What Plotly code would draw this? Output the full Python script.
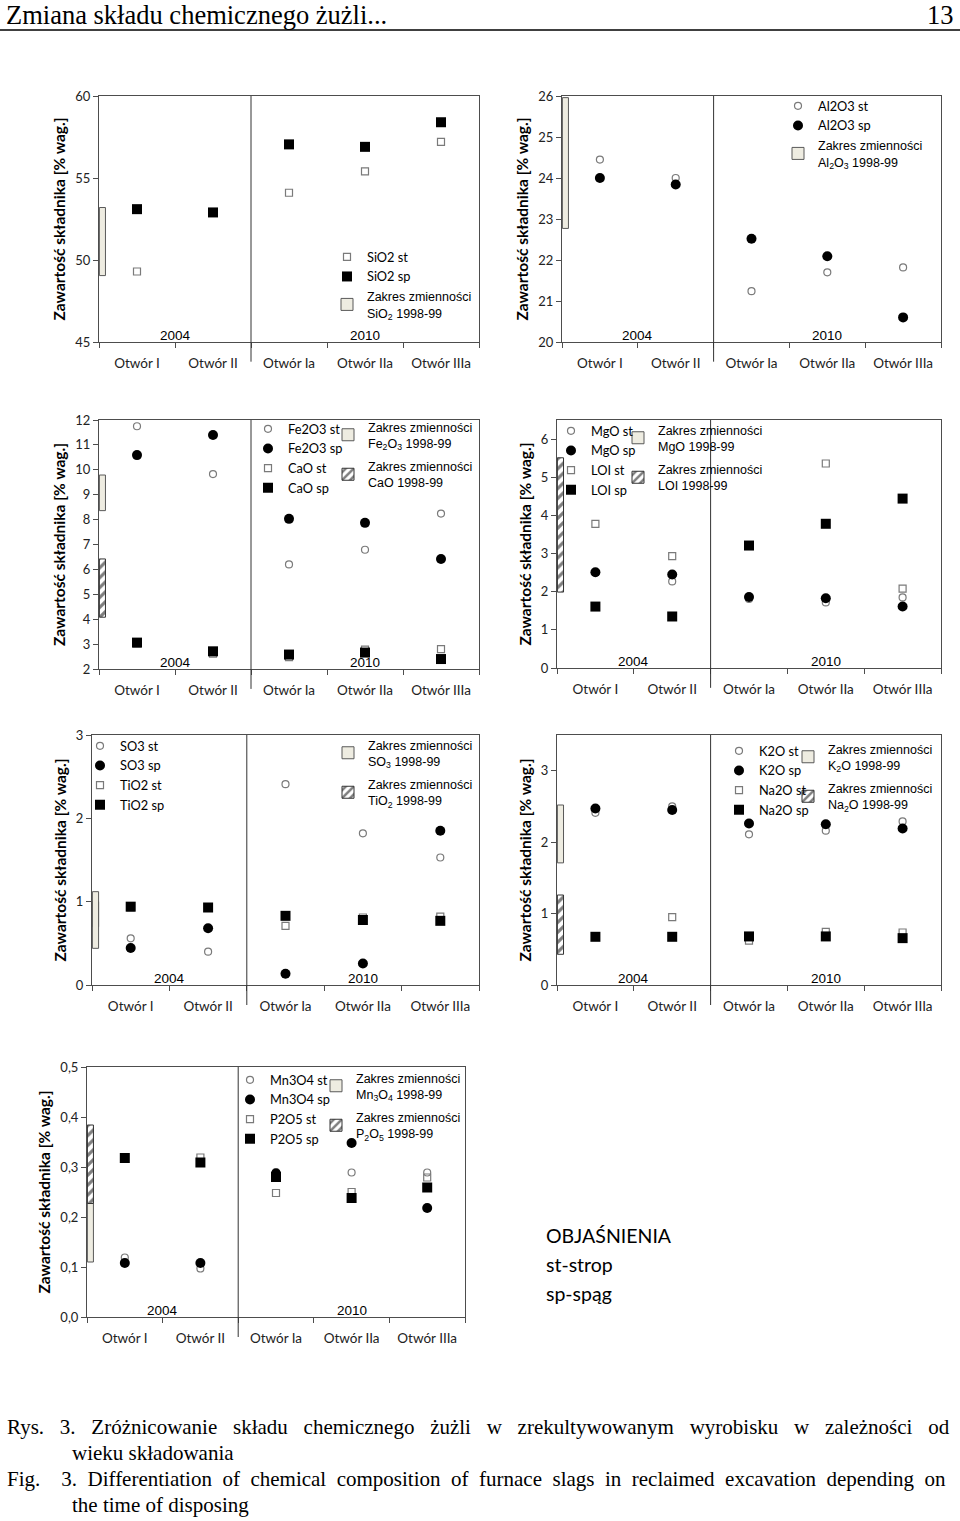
import plotly.graph_objects as go

# ---------------- data ----------------
categories = ["Otwór I", "Otwór II", "Otwór Ia", "Otwór IIa", "Otwór IIIa"]
year_labels = ["2004", "2010"]
year_groups = [[0, 1], [2, 3, 4]]

sio2_st = [49.3, 52.9, 54.1, 55.4, 57.2]
sio2_sp = [53.1, 52.9, 57.05, 56.9, 58.4]
sio2_range = [49.05, 53.2]

al2o3_st = [24.45, 24.0, 21.24, 21.7, 21.82]
al2o3_sp = [24.0, 23.84, 22.52, 22.09, 20.6]
al2o3_range = [22.77, 25.96]

fe2o3_st = [11.75, 9.83, 6.2, 6.79, 8.24]
fe2o3_sp = [10.59, 11.4, 8.03, 7.87, 6.42]
cao_st = [3.03, 2.62, 2.48, 2.78, 2.8]
cao_sp = [3.06, 2.71, 2.58, 2.66, 2.4]
fe2o3_range = [8.36, 9.79]
cao_range = [4.08, 6.42]

mgo_st = [2.5, 2.27, 1.81, 1.72, 1.85]
mgo_sp = [2.51, 2.45, 1.86, 1.83, 1.61]
loi_st = [3.78, 2.93, 3.2, 5.36, 2.08]
loi_sp = [1.61, 1.35, 3.21, 3.78, 4.44]
mgo_range = [2.1, 3.0]
loi_range = [1.99, 5.51]

so3_st = [0.56, 0.40, 2.41, 1.82, 1.53]
so3_sp = [0.445, 0.68, 0.136, 0.257, 1.85]
tio2_st = [0.93, 0.93, 0.71, 0.81, 0.82]
tio2_sp = [0.94, 0.93, 0.83, 0.78, 0.77]
so3_range = [0.44, 1.12]
tio2_range = [0.7, 1.0]

k2o_st = [2.41, 2.50, 2.11, 2.16, 2.29]
k2o_sp = [2.47, 2.45, 2.26, 2.25, 2.19]
na2o_st = [0.68, 0.95, 0.62, 0.745, 0.735]
na2o_sp = [0.675, 0.675, 0.68, 0.68, 0.656]
k2o_range = [1.71, 2.52]
na2o_range = [0.43, 1.26]

mn3o4_st = [0.119, 0.097, 0.29, 0.289, 0.289]
mn3o4_sp = [0.108, 0.108, 0.287, 0.348, 0.218]
p2o5_st = [0.32, 0.319, 0.248, 0.25, 0.279]
p2o5_sp = [0.318, 0.309, 0.28, 0.238, 0.259]
mn3o4_range = [0.11, 0.38]
p2o5_range = [0.227, 0.384]

header_text = "Zmiana składu chemicznego żużli..."
page_number = "13"
explanation = ["OBJAŚNIENIA", "st-strop", "sp-spąg"]
caption_lines = [
    "Rys. 3. Zróżnicowanie składu chemicznego żużli w zrekultywowanym wyrobisku w zależności od",
    "wieku składowania",
    "Fig.  3. Differentiation of chemical composition of furnace slags in reclaimed excavation depending on",
    "the time of disposing",
]

# ---------------- styles / layout ----------------
W, H = 960, 1521
AX = "#4d4d4d"
SANS = "Lato"
ARIAL = "Liberation Sans"
SERIF = "Liberation Serif"
RANGE_X = -0.455
RANGE_W = 0.08

MK = {
    "c_open": dict(symbol="circle-open", size=7, color="#7a7a7a", line=dict(width=1.2)),
    "c_fill": dict(symbol="circle", size=10, color="black"),
    "s_open": dict(symbol="square-open", size=7, color="#7a7a7a", line=dict(width=1.2)),
    "s_fill": dict(symbol="square", size=10, color="black"),
}
PLAIN = dict(color="#eeece1", line=dict(color="#595959", width=1))
HATCH = dict(color="white", line=dict(color="#333333", width=1),
             pattern=dict(shape="/", fgcolor="black", bgcolor="white", size=7, solidity=0.45))


def rng_name(formula):
    return ('<span style="font-family:Liberation Sans;font-size:12.5px">Zakres zmienności<br>'
            + formula + ' 1998-99</span>')


panels = [
    dict(box=(99, 479, 96, 342), yr=[45, 60], dt=5, fmt="",
         pts=[("SiO2 st", sio2_st, "s_open"), ("SiO2 sp", sio2_sp, "s_fill")],
         rngs=[("SiO<sub>2</sub>", sio2_range, PLAIN, 3)],
         legA=(367, 257), legB=None),
    dict(box=(562, 941, 96, 342), yr=[20, 26], dt=1, fmt="",
         pts=[("Al2O3 st", al2o3_st, "c_open"), ("Al2O3 sp", al2o3_sp, "c_fill")],
         rngs=[("Al<sub>2</sub>O<sub>3</sub>", al2o3_range, PLAIN, 3)],
         legA=(818, 106), legB=None),
    dict(box=(99, 479, 420, 669), yr=[2, 12], dt=1, fmt="",
         pts=[("Fe2O3 st", fe2o3_st, "c_open"), ("Fe2O3 sp", fe2o3_sp, "c_fill"),
              ("CaO st", cao_st, "s_open"), ("CaO sp", cao_sp, "s_fill")],
         rngs=[("Fe<sub>2</sub>O<sub>3</sub>", fe2o3_range, PLAIN, 1), ("CaO", cao_range, HATCH, 2)],
         legA=(288, 429), legB=(368, 427)),
    dict(box=(557, 941, 420, 668), yr=[0, 6.5], dt=1, fmt="",
         pts=[("MgO st", mgo_st, "c_open"), ("MgO sp", mgo_sp, "c_fill"),
              ("LOI st", loi_st, "s_open"), ("LOI sp", loi_sp, "s_fill")],
         rngs=[("MgO", mgo_range, PLAIN, 1), ("LOI", loi_range, HATCH, 2)],
         legA=(591, 431), legB=(658, 430)),
    dict(box=(92, 479, 735, 985), yr=[0, 3], dt=1, fmt="",
         pts=[("SO3 st", so3_st, "c_open"), ("SO3 sp", so3_sp, "c_fill"),
              ("TiO2 st", tio2_st, "s_open"), ("TiO2 sp", tio2_sp, "s_fill")],
         rngs=[("TiO<sub>2</sub>", tio2_range, HATCH, 2), ("SO<sub>3</sub>", so3_range, PLAIN, 1)],
         legA=(120, 746), legB=(368, 745)),
    dict(box=(557, 941, 735, 985), yr=[0, 3.5], dt=1, fmt="",
         pts=[("K2O st", k2o_st, "c_open"), ("K2O sp", k2o_sp, "c_fill"),
              ("Na2O st", na2o_st, "s_open"), ("Na2O sp", na2o_sp, "s_fill")],
         rngs=[("K<sub>2</sub>O", k2o_range, PLAIN, 1), ("Na<sub>2</sub>O", na2o_range, HATCH, 2)],
         legA=(759, 751), legB=(828, 749)),
    dict(box=(87, 465, 1067, 1317), yr=[0, 0.5], dt=0.1, fmt=".1f",
         pts=[("Mn3O4 st", mn3o4_st, "c_open"), ("Mn3O4 sp", mn3o4_sp, "c_fill"),
              ("P2O5 st", p2o5_st, "s_open"), ("P2O5 sp", p2o5_sp, "s_fill")],
         rngs=[("Mn<sub>3</sub>O<sub>4</sub>", mn3o4_range, PLAIN, 1),
               ("P<sub>2</sub>O<sub>5</sub>", p2o5_range, HATCH, 2)],
         legA=(270, 1080), legB=(356, 1078)),
]

fig = go.Figure()
layout = dict(
    width=W, height=H, margin=dict(l=0, r=0, t=0, b=0, autoexpand=False),
    paper_bgcolor="white", plot_bgcolor="white",
    barmode="overlay", separators=", ", showlegend=True,
    shapes=[], annotations=[],
)

xs = list(range(len(categories)))
leg_count = 0


def new_legend(text_left, first_center, font, gap=0):
    global leg_count
    leg_count += 1
    key = "legend" if leg_count == 1 else f"legend{leg_count}"
    layout[key] = dict(
        x=(text_left - 40) / W, y=1 - (first_center - 15) / H,
        xanchor="left", yanchor="top", bgcolor="rgba(0,0,0,0)",
        font=font, tracegroupgap=gap, itemclick=False, itemdoubleclick=False,
    )
    return key


for i, p in enumerate(panels, start=1):
    x0, x1, top, bottom = p["box"]
    xa = "x" if i == 1 else f"x{i}"
    ya = "y" if i == 1 else f"y{i}"
    xkey = "xaxis" if i == 1 else f"xaxis{i}"
    ykey = "yaxis" if i == 1 else f"yaxis{i}"
    layout[xkey] = dict(
        domain=[x0 / W, x1 / W], anchor=ya, range=[-0.5, len(categories) - 0.5],
        tickmode="array", tickvals=xs, ticktext=categories, ticks="",
        showline=True, linecolor=AX, linewidth=1, mirror=True,
        showgrid=False, zeroline=False, ticklabelstandoff=9,
        tickfont=dict(family=SANS, size=13.5, color="#222"),
        minor=dict(tickmode="linear", tick0=-0.5, dtick=1, ticks="outside",
                   ticklen=5, tickcolor=AX, tickwidth=1, showgrid=False),
    )
    layout[ykey] = dict(
        domain=[1 - bottom / H, 1 - top / H], anchor=xa, range=p["yr"],
        tickmode="linear", tick0=0, dtick=p["dt"], tickformat=p["fmt"],
        ticks="outside", ticklen=5, tickcolor=AX, tickwidth=1,
        showline=True, linecolor=AX, linewidth=1, mirror=True,
        showgrid=False, zeroline=False,
        tickfont=dict(family=SANS, size=13, color="#222"),
        title=dict(text="Zawartość składnika [% wag.]", standoff=5,
                   font=dict(family=SANS, size=15.5, color="black", weight=700)),
    )

    legA = new_legend(p["legA"][0], p["legA"][1], dict(family=SANS, size=12.8, color="black"))
    legB = legA if p["legB"] is None else new_legend(
        p["legB"][0], p["legB"][1], dict(family=ARIAL, size=12.5, color="black"), gap=4)

    # range bars (1998-99)
    for formula, (lo, hi), style, rank in p["rngs"]:
        fig.add_trace(go.Bar(
            x=[RANGE_X], y=[hi - lo], base=[lo], width=[RANGE_W],
            marker=style, name=rng_name(formula), xaxis=xa, yaxis=ya,
            legend=legB, legendrank=1000 + rank, legendgroup=f"r{i}_{rank}",
            hoverinfo="skip",
        ))
    # measurement points
    for k, (name, vals, kind) in enumerate(p["pts"]):
        fig.add_trace(go.Scatter(
            x=xs, y=vals, mode="markers", marker=MK[kind], name=name,
            xaxis=xa, yaxis=ya, legend=legA, legendrank=k + 1, cliponaxis=False,
        ))

    # separator between 2004 and 2010 groups
    sep = (year_groups[0][-1] + year_groups[1][0]) / 2
    layout["shapes"].append(dict(type="line", xref=xa, yref=f"{ya} domain",
                                 x0=sep, x1=sep, y0=-0.08, y1=1,
                                 line=dict(color="#333333", width=1)))
    for lab, grp in zip(year_labels, year_groups):
        layout["annotations"].append(dict(
            text=lab, xref=xa, yref=f"{ya} domain", x=sum(grp) / len(grp), y=0,
            xanchor="center", yanchor="bottom", yshift=-3, showarrow=False,
            font=dict(family=ARIAL, size=13.5, color="black")))

# page header
layout["annotations"] += [
    dict(text=header_text, xref="paper", yref="paper",
         x=4 / W, y=1 - 15 / H, xanchor="left", yanchor="middle", showarrow=False,
         font=dict(family=SERIF, size=26.5, color="black")),
    dict(text=page_number, xref="paper", yref="paper", x=956 / W, y=1 - 15 / H,
         xanchor="right", yanchor="middle", showarrow=False,
         font=dict(family=SERIF, size=26.5, color="black")),
]
layout["shapes"].append(dict(type="line", xref="paper", yref="paper", x0=0, x1=1,
                             y0=1 - 30 / H, y1=1 - 30 / H, line=dict(color="black", width=1.5)))

# explanation box
for txt, yc in zip(explanation, [1235, 1264, 1293]):
    layout["annotations"].append(dict(
        text=txt, xref="paper", yref="paper", x=544 / W, y=1 - yc / H,
        xanchor="left", yanchor="middle", showarrow=False,
        font=dict(family=SANS, size=19.5, color="black")))


def justify(text, extra):
    # emulate the justified line of the printed caption with extra non-breaking spaces
    return (" " + "\u00a0" * extra).join(text.split(" ")) if extra else text


# caption
for txt, xl, yc, extra in zip(caption_lines, [5, 70, 5, 70], [1427, 1453, 1479, 1505], [2, 0, 1, 0]):
    layout["annotations"].append(dict(
        text=justify(txt, extra), xref="paper", yref="paper", x=xl / W, y=1 - yc / H,
        xanchor="left", yanchor="middle", showarrow=False,
        font=dict(family=SERIF, size=21, color="black")))

fig.update_layout(**layout)
fig.write_html("out.html", config={"displayModeBar": False},
               post_script="document.body.style.margin='0px';")
